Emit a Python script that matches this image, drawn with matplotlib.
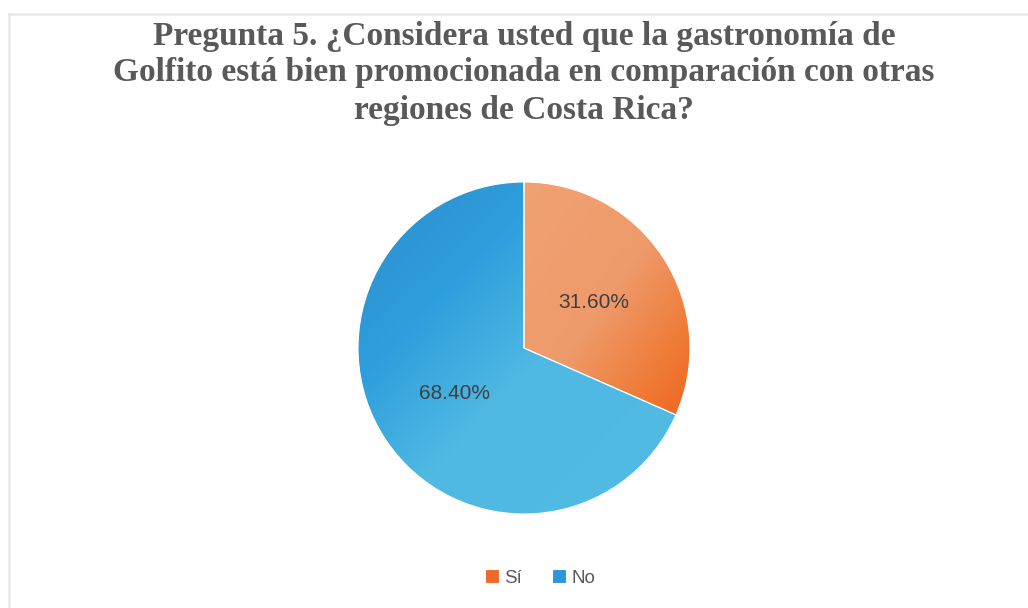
import numpy as np
import matplotlib.pyplot as plt
from matplotlib.colors import LinearSegmentedColormap
from matplotlib.lines import Line2D
from matplotlib.patches import Wedge

plt.rcParams['font.family'] = 'Liberation Sans'

labels = ['Sí', 'No']
values = [31.6, 68.4]
base_colors = ['#EE6A2B', '#2E96D8']

# gradient stops (top-left -> bottom-right of each slice)
grad_stops = [
    [(0.0, '#F0A273'), (0.5, '#EF9A6B'), (0.8, '#EE7C38'), (1.0, '#EE6620')],
    [(0.0, '#2C8CC9'), (0.3, '#2E9FDD'), (0.55, '#4FB9E3'), (1.0, '#51BBE4')],
]

title = ('Pregunta 5. ¿Considera usted que la gastronomía de\n'
         'Golfito está bien promocionada en comparación con otras\n'
         'regiones de Costa Rica?')

W, H = 1028, 608
fig = plt.figure(figsize=(W / 100, H / 100), dpi=100)

# light chart border (top and left)
fig.add_artist(Line2D([9 / W, 9 / W], [0, 1 - 14 / H], color='#E8E8E8', lw=1.8))
fig.add_artist(Line2D([9 / W, 1], [1 - 14 / H, 1 - 14 / H], color='#E8E8E8', lw=1.8))

cx, cy, r = 524, 348, 166
ax = fig.add_axes([(cx - r) / W, (H - cy - r) / H, 2 * r / W, 2 * r / H])

wedges, texts, autotexts = ax.pie(values, colors=base_colors, startangle=90,
                                  counterclock=False, autopct='%.2f%%',
                                  pctdistance=0.5,
                                  wedgeprops=dict(edgecolor='white', linewidth=0.8),
                                  textprops=dict(color='#404040', fontsize=15))
for t in texts:
    t.set_visible(False)

n = 400
xs = np.linspace(-1, 1, n)
X, Y = np.meshgrid(xs, xs)
for w, stops in zip(wedges, grad_stops):
    ext = w.get_path().get_extents()
    u = (X - ext.x0) / (ext.x1 - ext.x0)
    v = (ext.y1 - Y) / (ext.y1 - ext.y0)
    tt = np.clip((u + v) / 2, 0, 1)
    cmap = LinearSegmentedColormap.from_list('g', stops)
    im = ax.imshow(cmap(tt), extent=(-1, 1, -1, 1), origin='lower',
                   interpolation='bilinear', zorder=w.get_zorder() + 0.1)
    im.set_clip_path(w)
for t in autotexts:
    t.set_zorder(5)
# thin white separators on top
for w in wedges:
    ax.add_patch(Wedge(w.center, w.r, w.theta1, w.theta2, facecolor='none',
                       edgecolor='white', linewidth=0.8, zorder=4))

ax.set_xlim(-1, 1)
ax.set_ylim(-1, 1)
ax.set_aspect('equal')
ax.axis('off')

fig.text(cx / W, 1 - 73 / H, title, ha='center', va='center',
         family='Liberation Serif', fontweight='bold', fontsize=24,
         color='#595959', linespacing=1.25)

fig.legend(wedges, labels, loc='center', bbox_to_anchor=(540 / W, 1 - 578 / H),
           ncol=2, frameon=False, fontsize=13.5, labelcolor='#595959',
           handlelength=0.75, handleheight=0.75, handletextpad=0.3,
           columnspacing=1.6)

fig.savefig('out.png', dpi=100)
